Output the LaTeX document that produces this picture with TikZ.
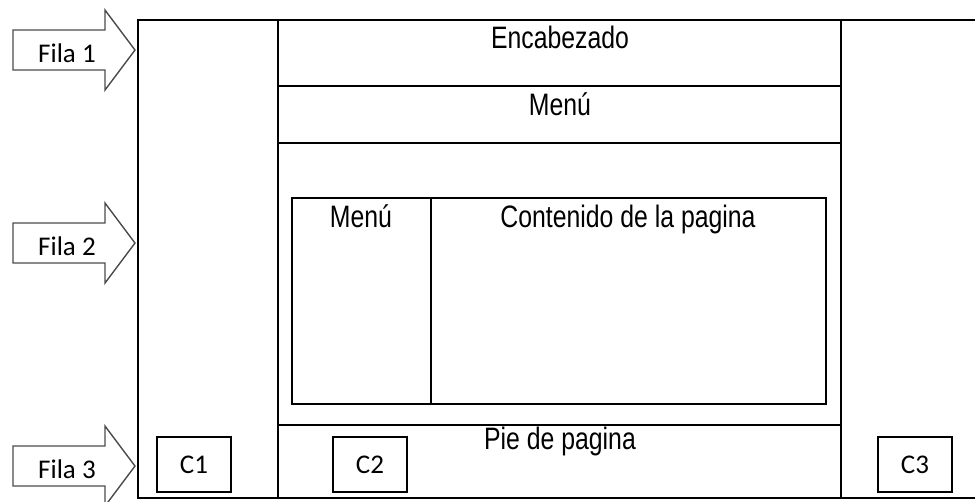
\documentclass[tikz,border=0pt]{standalone}
\usepackage{fontspec}
\setmainfont{Liberation Sans}
\newfontfamily\narrowfont[FakeStretch=0.8]{Liberation Sans}
\newfontfamily\calfont{Carlito}
\usetikzlibrary{positioning}

\begin{document}
\begin{tikzpicture}[x=1pt, y=-1pt,
  frame/.style={line width=1.8pt},
  title/.style={anchor=base, inner sep=0pt, font=\narrowfont\fontsize{31}{31}\selectfont},
  fila/.style={draw=black!70, line width=1.4pt, fill=white},
  filatext/.style={anchor=base, inner sep=0pt, font=\calfont\fontsize{27}{27}\selectfont},
  cbox/.style={draw, line width=1.8pt, minimum width=74pt, minimum height=55pt, inner sep=0pt,
    font=\calfont\fontsize{27}{27}\selectfont}]
  \useasboundingbox (0,0) rectangle (975,501);
  % columns and rows
  \draw[frame] (975,20) -- (138,20) -- (138,498) -- (975,498);
  \draw[frame] (278,20) -- (278,498);
  \draw[frame] (841,20) -- (841,498);
  \draw[frame] (278,86) -- (841,86);
  \draw[frame] (278,143) -- (841,143);
  \draw[frame] (278,425) -- (841,425);
  % content box
  \draw[frame] (292,198) rectangle (826,404);
  \draw[frame] (431,198) -- (431,404);
  % row arrows
  \foreach \y/\n in {50/1, 243/2, 466/3} {
    \draw[fila] (13,\y-20) -- (105,\y-20) -- (105,\y-40) -- (135,\y)
      -- (105,\y+40) -- (105,\y+20) -- (13,\y+20) -- cycle;
    \node[filatext] (fila\n) at (67,\y+12) {Fila \n};
  }
  \node[title] (enc) at (560,48) {Encabezado};
  \node[title] (menu) at (560,115) {Menú};
  \node[title] (menulat) at (361,227) {Menú};
  \node[title] (cont) at (628,227) {Contenido de la pagina};
  \node[title] (pie) at (560,449) {Pie de pagina};
  \node[cbox] (c1) at (194,464.5) {C1};
  \node[cbox] (c2) at (370,464.5) {C2};
  \node[cbox] (c3) at (915,464.5) {C3};
\end{tikzpicture}
\end{document}
